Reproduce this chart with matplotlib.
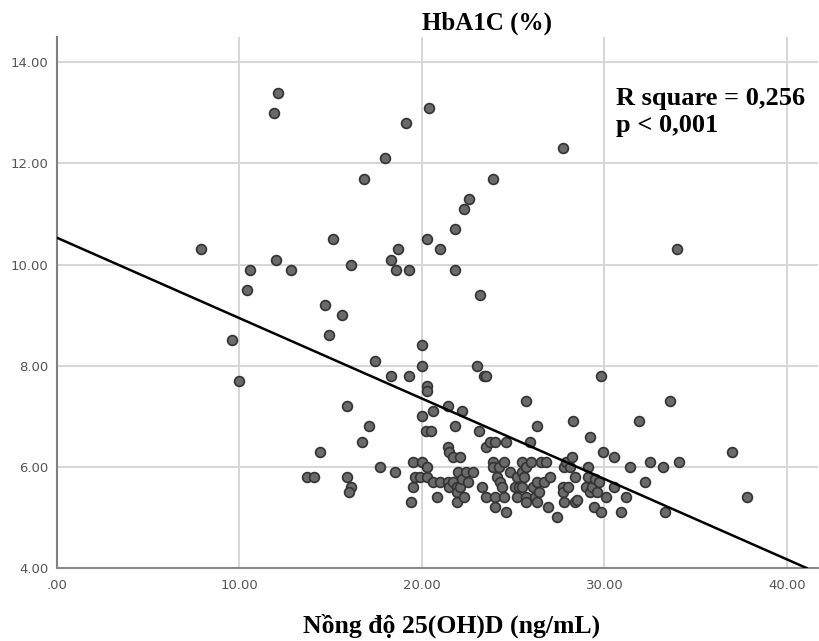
import numpy as np
import matplotlib.pyplot as plt

# 25(OH)D (ng/mL) and HbA1C (%)
vitd = [
    7.9, 9.6, 10.0, 10.4, 10.6, 11.9, 12.1, 12.0, 12.8, 13.7,
    14.1, 14.4, 14.7, 14.9, 15.1, 15.6, 15.9, 15.9, 16.1, 16.1,
    16.0, 16.7, 16.8, 17.1, 17.4, 17.7, 18.0, 18.3, 18.3, 18.5,
    18.6, 18.7, 19.1, 19.3, 19.3, 19.4, 19.5, 19.5, 19.6, 19.9,
    20.3, 20.0, 20.0, 20.0, 20.0, 20.2, 20.3, 20.3, 20.3, 20.4,
    20.3, 20.5, 20.6, 20.6, 20.8, 21.0, 21.0, 21.4, 21.4, 21.5,
    21.4, 21.5, 21.7, 21.7, 21.8, 21.8, 21.8, 21.9, 21.9, 21.9,
    22.0, 22.1, 22.1, 22.2, 22.2, 22.3, 22.3, 22.4, 22.5, 22.6,
    22.8, 23.0, 23.1, 23.2, 23.3, 23.4, 23.5, 23.5, 23.5, 23.7,
    23.9, 23.9, 23.9, 24.0, 24.0, 24.0, 24.1, 24.2, 24.3, 24.4,
    24.5, 24.5, 24.6, 24.6, 24.8, 25.1, 25.2, 25.2, 25.3, 25.5,
    25.5, 25.5, 25.6, 25.7, 25.7, 25.7, 25.7, 25.9, 26.0, 26.1,
    26.2, 26.3, 26.3, 26.3, 26.4, 26.5, 26.7, 26.8, 26.9, 27.0,
    27.4, 27.7, 27.7, 27.7, 27.8, 27.8, 27.9, 28.0, 28.1, 28.2,
    28.3, 28.4, 28.4, 28.5, 29.0, 29.1, 29.1, 29.2, 29.2, 29.3,
    29.4, 29.5, 29.6, 29.7, 29.8, 29.8, 29.9, 30.1, 30.5, 30.5,
    30.9, 31.2, 31.4, 31.9, 32.2, 32.5, 33.2, 33.3, 33.6, 34.0,
    34.1, 37.0, 37.8,
]
hba1c = [
    10.3, 8.5, 7.7, 9.5, 9.9, 13.0, 13.4, 10.1, 9.9, 5.8,
    5.8, 6.3, 9.2, 8.6, 10.5, 9.0, 7.2, 5.8, 10.0, 5.6,
    5.5, 6.5, 11.7, 6.8, 8.1, 6.0, 12.1, 7.8, 10.1, 5.9,
    9.9, 10.3, 12.8, 9.9, 7.8, 5.3, 5.6, 6.1, 5.8, 5.8,
    5.8, 8.4, 8.0, 7.0, 6.1, 6.7, 7.6, 7.5, 6.0, 13.1,
    10.5, 6.7, 7.1, 5.7, 5.4, 10.3, 5.7, 7.2, 6.4, 6.3,
    5.7, 5.6, 6.2, 5.7, 10.7, 9.9, 6.8, 5.6, 5.5, 5.3,
    5.9, 6.2, 5.6, 7.1, 5.75, 11.1, 5.4, 5.9, 5.7, 11.3,
    5.9, 8.0, 6.7, 9.4, 5.6, 7.8, 7.8, 6.4, 5.4, 6.5,
    11.7, 6.1, 6.0, 6.5, 5.4, 5.2, 5.8, 6.0, 5.7, 5.6,
    6.1, 5.4, 6.5, 5.1, 5.9, 5.6, 5.8, 5.4, 5.6, 6.1,
    5.9, 5.6, 5.8, 7.3, 6.0, 5.4, 5.3, 6.5, 6.1, 5.6,
    5.4, 6.8, 5.7, 5.3, 5.5, 6.1, 5.7, 6.1, 5.2, 5.8,
    5.0, 12.3, 5.6, 5.5, 6.0, 5.3, 6.1, 5.6, 6.0, 6.2,
    6.9, 5.8, 5.3, 5.35, 5.6, 6.0, 5.8, 6.6, 5.5, 5.6,
    5.2, 5.75, 5.5, 5.7, 7.8, 5.1, 6.3, 5.4, 6.2, 5.6,
    5.1, 5.4, 6.0, 6.9, 5.7, 6.1, 6.0, 5.1, 7.3, 10.3,
    6.1, 6.3, 5.4,
]

# fit line as printed on the chart
fit_intercept = 10.53
fit_slope = -0.159

x_ticks = [0, 10, 20, 30, 40]
x_tick_labels = [".00", "10.00", "20.00", "30.00", "40.00"]
y_ticks = [4, 6, 8, 10, 12, 14]
y_tick_labels = ["4.00", "6.00", "8.00", "10.00", "12.00", "14.00"]

title_text = "HbA1C (%)"
xlabel_text = "Nồng độ 25(OH)D (ng/mL)"
stats_text = "R square = 0,256\np < 0,001"


def main():
    W, H = 820, 641
    fig = plt.figure(figsize=(W / 100, H / 100), dpi=100)
    ax = fig.add_axes([57 / W, 73 / H, (818 - 57) / W, (568 - 37) / H])

    ax.set_xlim(0, 41.7)
    ax.set_ylim(4, 14.5)

    ax.grid(True, color="#d6d6d6", linewidth=1.4)
    ax.set_axisbelow(True)

    ax.scatter(vitd, hba1c, s=50, facecolor="#6a6a6a", edgecolor="#333333",
               linewidth=1.2, zorder=2)
    ax.axline((0, fit_intercept), slope=fit_slope, color="black",
              linewidth=1.8, zorder=3)

    ax.set_xticks(x_ticks)
    ax.set_xticklabels(x_tick_labels)
    ax.set_yticks(y_ticks)
    ax.set_yticklabels(y_tick_labels)
    ax.tick_params(length=0, labelsize=9.5, labelcolor="#555555")
    ax.tick_params(axis="y", pad=6)
    ax.tick_params(axis="x", pad=8)

    for side in ["top", "right"]:
        ax.spines[side].set_visible(False)
    ax.spines["left"].set_color("#808080")
    ax.spines["bottom"].set_color("#888888")
    ax.spines["left"].set_linewidth(1.5)
    ax.spines["bottom"].set_linewidth(1.5)

    serif = "Liberation Serif"
    fig.text(487 / W, 1 - 23 / H, title_text, ha="center", va="center",
             family=serif, weight="bold", fontsize=18)
    fig.text(452 / W, 1 - 626 / H, xlabel_text, ha="center", va="center",
             family=serif, weight="bold", fontsize=18.5)
    fig.text(616 / W, 1 - 87 / H, stats_text, ha="left", va="top",
             family=serif, weight="bold", fontsize=19, linespacing=1.2)

    fig.savefig("out.png", dpi=100)
    plt.close(fig)


if __name__ == "__main__":
    main()
